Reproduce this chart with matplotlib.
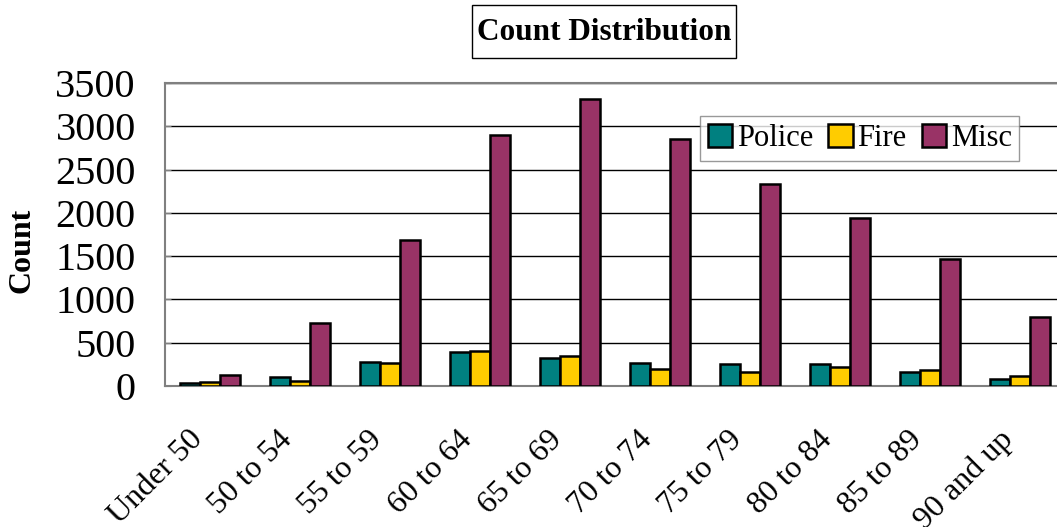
import matplotlib
matplotlib.use("Agg")
import matplotlib.pyplot as plt
import matplotlib.transforms as mtransforms
from matplotlib.patches import Rectangle
import numpy as np

plt.rcParams['font.family'] = ['Liberation Serif', 'DejaVu Serif']

categories = ["Under 50", "50 to 54", "55 to 59", "60 to 64", "65 to 69",
              "70 to 74", "75 to 79", "80 to 84", "85 to 89", "90 and up"]
police = [38, 100, 281, 393, 327, 269, 250, 254, 165, 81]
fire = [46, 61, 262, 404, 343, 196, 165, 216, 188, 112]
misc = [130, 731, 1686, 2899, 3320, 2849, 2330, 1940, 1467, 793]

series = [("Police", police, "#008080"),
          ("Fire", fire, "#FFCC00"),
          ("Misc", misc, "#993366")]

W, H = 1057, 527
fig = plt.figure(figsize=(W / 100, H / 100), dpi=100)
ax = fig.add_axes([165 / W, 1 - 386 / H, 900 / W, 303 / H])

x = np.arange(len(categories))
w = 0.222
for i, (name, vals, col) in enumerate(series):
    ax.bar(x + (i - 1) * w, vals, w, color=col, edgecolor="black",
           linewidth=1.8, label=name, zorder=3)

ax.set_xlim(-0.5, len(categories) - 0.5)
ax.set_ylim(0, 3500)
ax.set_yticks(range(0, 3501, 500))
ax.yaxis.grid(True, color="black", linewidth=1.0, zorder=0)
ax.tick_params(axis="y", direction="in", length=4, labelsize=29, pad=21,
               color="#808080")
ax.tick_params(axis="x", length=0, labelsize=23, pad=28)
ax.set_xticks(x)
ax.set_xticklabels(categories, rotation=45, ha="right", rotation_mode="anchor")
shift = mtransforms.ScaledTranslation(-22 / 100, 0, fig.dpi_scale_trans)
for lbl in ax.get_xticklabels():
    lbl.set_transform(lbl.get_transform() + shift)

for s in ["left", "bottom", "top"]:
    ax.spines[s].set_color("#808080")
    ax.spines[s].set_linewidth(1.5)
ax.spines["right"].set_visible(False)

fig.text(22 / W, 1 - 250 / H, "Count", rotation=90, fontsize=23,
         fontweight="bold", ha="center", va="center")

# title in a box
fig.patches.append(Rectangle((472 / W, 1 - 58 / H), 264 / W, 53 / H,
                             transform=fig.transFigure, facecolor="white",
                             edgecolor="black", linewidth=1.0))
fig.text(604 / W, 1 - 33 / H, "Count Distribution", fontsize=22.5,
         fontweight="bold", ha="center", va="center")

leg = ax.legend(loc="upper left", bbox_to_anchor=((700 - 165) / 900, (386 - 116) / 303),
                ncol=3, fontsize=22, frameon=True, fancybox=False,
                handlelength=0.8, handleheight=0.8, handletextpad=0.15,
                columnspacing=0.5, borderpad=0.25, borderaxespad=0)
leg.get_frame().set_edgecolor("#808080")
leg.get_frame().set_linewidth(1.0)
for p in leg.get_patches():
    p.set_linewidth(1.8)

fig.savefig("out.png", dpi=100)
